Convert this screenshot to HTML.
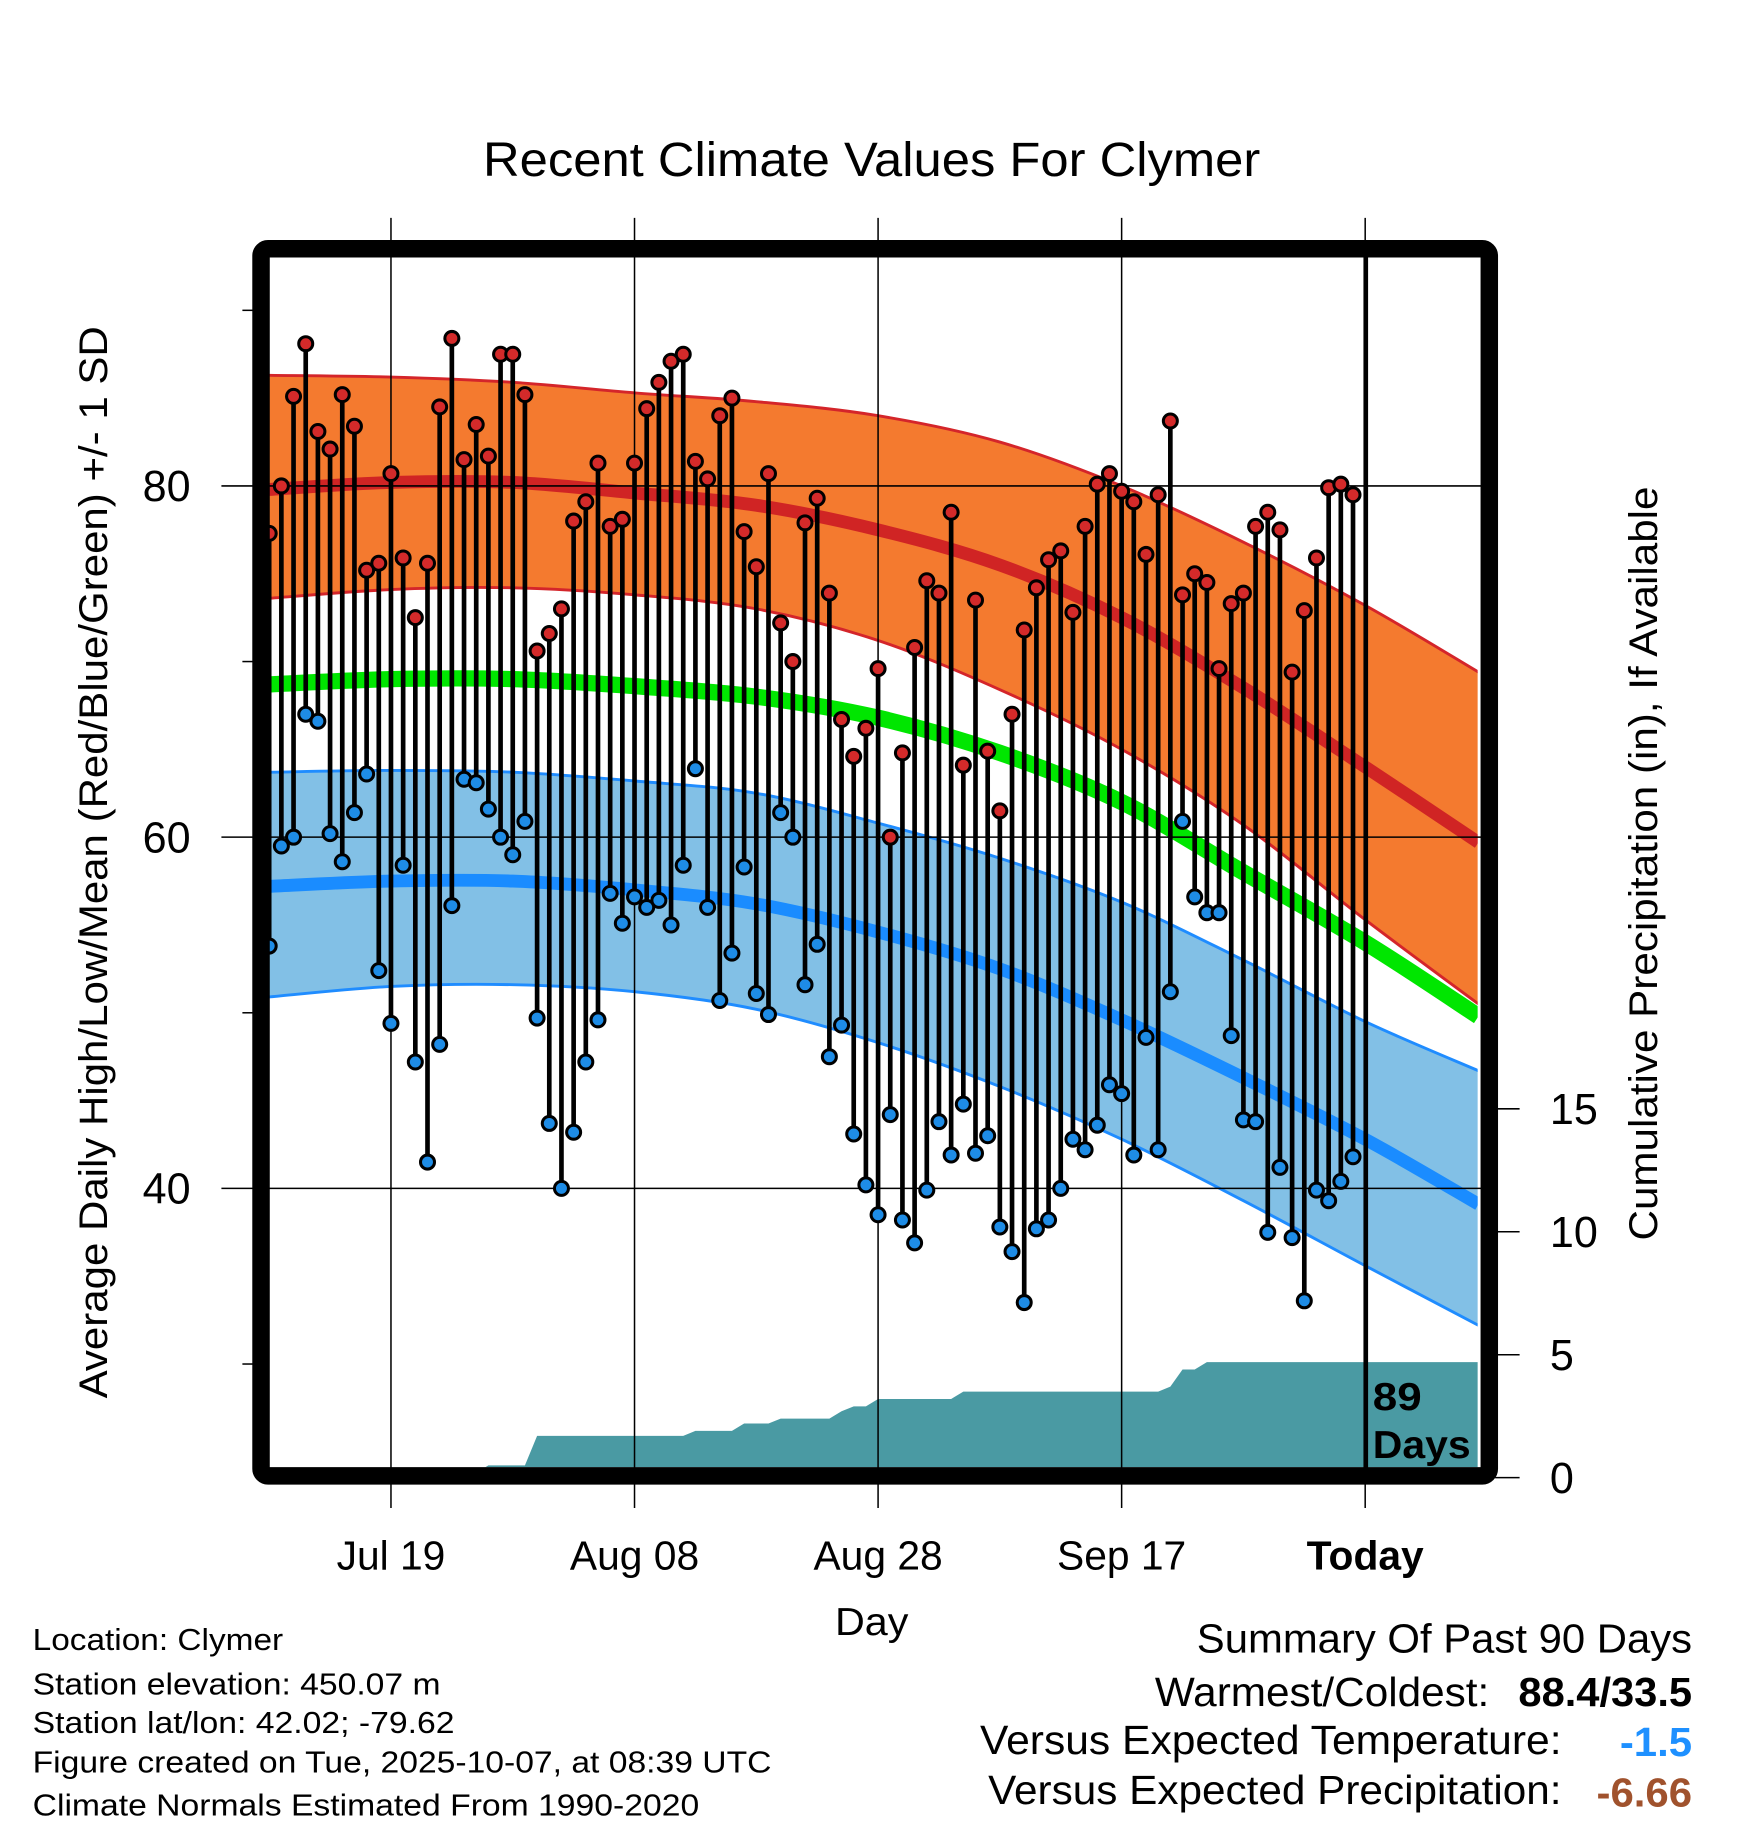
<!DOCTYPE html>
<html><head><meta charset="utf-8"><style>
html,body{margin:0;padding:0;background:#fff}
svg{display:block}
text{font-family:"Liberation Sans",sans-serif}
</style></head><body>
<svg id="chart" width="1748" height="1828" viewBox="0 0 1500 1568.65" preserveAspectRatio="none" xmlns="http://www.w3.org/2000/svg">
<defs><clipPath id="plotclip"><rect x="231" y="221" width="1037" height="1038"/></clipPath></defs>
<g id="bands" clip-path="url(#plotclip)"></g>
<g id="precip" clip-path="url(#plotclip)"></g>
<g id="grid"></g>
<g id="marks"></g>
<line x1="1172" y1="221" x2="1172" y2="1262" stroke="#000" stroke-width="4"/>
<text x="1178" y="1210" font-size="33" font-weight="bold" textLength="42" lengthAdjust="spacingAndGlyphs">89</text>
<text x="1178" y="1251" font-size="33" font-weight="bold" textLength="84" lengthAdjust="spacingAndGlyphs">Days</text>
<rect x="224" y="213.5" width="1054" height="1053" rx="6" fill="none" stroke="#000" stroke-width="15"/>
<g id="axes"></g>
<text x="748" y="151" font-size="41" text-anchor="middle" textLength="667" lengthAdjust="spacingAndGlyphs">Recent Climate Values For Clymer</text>
<text x="748" y="1403" font-size="33" text-anchor="middle" textLength="63" lengthAdjust="spacingAndGlyphs">Day</text>
<text transform="translate(92,740) rotate(-90)" font-size="34" text-anchor="middle" textLength="920" lengthAdjust="spacingAndGlyphs">Average Daily High/Low/Mean (Red/Blue/Green) +/- 1 SD</text>
<text transform="translate(1422,741) rotate(-90)" font-size="34" text-anchor="middle" textLength="647" lengthAdjust="spacingAndGlyphs">Cumulative Precipitation (in), If Available</text>
<g font-size="26">
<text x="28" y="1416" textLength="215" lengthAdjust="spacingAndGlyphs">Location: Clymer</text>
<text x="28" y="1454" textLength="350" lengthAdjust="spacingAndGlyphs">Station elevation: 450.07 m</text>
<text x="28" y="1487" textLength="362" lengthAdjust="spacingAndGlyphs">Station lat/lon: 42.02; -79.62</text>
<text x="28" y="1521" textLength="634" lengthAdjust="spacingAndGlyphs">Figure created on Tue, 2025-10-07, at 08:39 UTC</text>
<text x="28" y="1558" textLength="572" lengthAdjust="spacingAndGlyphs">Climate Normals Estimated From 1990-2020</text>
</g>
<g font-size="35">
<text x="1027" y="1418" textLength="425" lengthAdjust="spacingAndGlyphs">Summary Of Past 90 Days</text>
<text x="991" y="1464" textLength="287" lengthAdjust="spacingAndGlyphs">Warmest/Coldest:</text>
<text x="1303" y="1464" font-weight="bold" textLength="149" lengthAdjust="spacingAndGlyphs">88.4/33.5</text>
<text x="841" y="1505" textLength="499" lengthAdjust="spacingAndGlyphs">Versus Expected Temperature:</text>
<text x="1390" y="1507" font-weight="bold" fill="#1e90ff" textLength="62" lengthAdjust="spacingAndGlyphs">-1.5</text>
<text x="848" y="1548" textLength="492" lengthAdjust="spacingAndGlyphs">Versus Expected Precipitation:</text>
<text x="1370" y="1550" font-weight="bold" fill="#a0522d" textLength="82" lengthAdjust="spacingAndGlyphs">-6.66</text>
</g>
</svg>
<script>
const highs=[77.3,80,85.1,88.1,83.1,82.1,85.2,83.4,75.2,75.6,80.7,75.9,72.5,75.6,84.5,88.4,81.5,83.5,81.7,87.5,87.5,85.2,70.6,71.6,73,78,79.1,81.3,77.7,78.1,81.3,84.4,85.9,87.1,87.5,81.4,80.4,84,85,77.4,75.4,80.7,72.2,70,77.9,79.3,73.9,66.7,64.6,66.2,69.6,60,64.8,70.8,74.6,73.9,78.5,64.1,73.5,64.9,61.5,67,71.8,74.2,75.8,76.3,72.8,77.7,80.1,80.7,79.7,79.1,76.1,79.5,83.7,73.8,75,74.5,69.6,73.3,73.9,77.7,78.5,77.5,69.4,72.9,75.9,79.9,80.1,79.5];
const lows=[53.8,59.5,60,67,66.6,60.2,58.6,61.4,63.6,52.4,49.4,58.4,47.2,41.5,48.2,56.1,63.3,63.1,61.6,60,59,60.9,49.7,43.7,40,43.2,47.2,49.6,56.8,55.1,56.6,56,56.4,55,58.4,63.9,56,50.7,53.4,58.3,51.1,49.9,61.4,60,51.6,53.9,47.5,49.3,43.1,40.2,38.5,44.2,38.2,36.9,39.9,43.8,41.9,44.8,42,43,37.8,36.4,33.5,37.7,38.2,40,42.8,42.2,43.6,45.9,45.4,41.9,48.6,42.2,51.2,60.9,56.6,55.7,55.7,48.7,43.9,43.8,37.5,41.2,37.2,33.6,39.9,39.3,40.4,41.8];
const precipDaily=[0,0,0,0,0,0,0,0.05,0,0,0,0,0,0,0.05,0,0,0.1,0.3,0,0,0,1.2,0,0,0,0,0,0,0,0,0,0,0,0,0.2,0,0,0,0.3,0,0,0.2,0,0,0,0,0.3,0.2,0,0.3,0,0,0,0,0,0,0.3,0,0,0,0,0,0,0,0,0,0,0,0,0,0,0,0,0.2,0.7,0,0.3,0,0,0,0,0,0,0,0,0,0,0,0];
const normDays=[0,10,20,30,40,50,60,70,80,90,99.3];
const highUpper=[86.3,86.2,85.9,85.3,84.8,84.0,82.5,80.0,76.8,73.2,69.4];
const highMean=[79.8,80.2,80.2,79.6,78.9,77.5,75.5,72.5,68.5,64.0,59.7];
const highLower=[73.6,74.1,74.2,73.8,73.0,71.2,68.4,65.0,60.7,55.3,50.5];
const meanNorm=[68.7,69.0,69.0,68.6,68.0,66.8,64.8,62.0,58.0,54.0,49.8];
const lowUpper=[63.7,63.8,63.7,63.2,62.5,60.8,58.8,56.3,53.0,49.5,46.7];
const lowMean=[57.2,57.5,57.5,57.0,56.2,54.6,52.5,49.6,46.3,42.8,39.1];
const lowLower=[50.9,51.5,51.6,51.2,50.2,48.3,45.8,42.8,39.3,35.6,32.2];
const xTickDays=[10,30,50,70,90];
const xTickLabels=["Jul 19","Aug 08","Aug 28","Sep 17","Today"];
const yMajor=[80,60,40];
const yMinor=[90,70,50,30];
const pTicks=[0,5,10,15];

const NS="http://www.w3.org/2000/svg";
const xDay=d=>231+d*10.45;
const yT=t=>417+(80-t)*15.07;
const yP=p=>1268-p*21.1;
function mk(tag,attrs,parent){const e=document.createElementNS(NS,tag);for(const k in attrs)e.setAttribute(k,attrs[k]);parent.appendChild(e);return e;}
function smooth(pts){let d="";for(let i=0;i<pts.length-1;i++){const p0=pts[Math.max(0,i-1)],p1=pts[i],p2=pts[i+1],p3=pts[Math.min(pts.length-1,i+2)];
const c1=[p1[0]+(p2[0]-p0[0])/6,p1[1]+(p2[1]-p0[1])/6],c2=[p2[0]-(p3[0]-p1[0])/6,p2[1]-(p3[1]-p1[1])/6];
if(i===0)d+="M"+p1[0]+","+p1[1];d+=" C"+c1+" "+c2+" "+p2;}return d;}
const pts=arr=>arr.map((v,i)=>[xDay(normDays[i]),yT(v)]);
function band(up,lo,fill,edge,name){const g=document.getElementById('bands');
const lp=pts(lo).reverse();let d=smooth(pts(up))+" L"+lp[0]+smooth(lp).replace(/^M[^ ]*/,"")+" Z";
const e=mk('path',{d:d,fill:fill},g);


[up,lo].forEach(a=>{const l=mk('path',{d:smooth(pts(a)),fill:'none',stroke:edge,'stroke-width':2.5},g);

});}
function line(arr,color,w,name){const l=mk('path',{d:smooth(pts(arr)),fill:'none',stroke:color,'stroke-width':w},document.getElementById('bands'));

}
band(highUpper,highLower,'#f47a2f','#d4252a','high-sd-band');
band(lowUpper,lowLower,'#82c0e6','#1f8cff','low-sd-band');
line(highMean,'#d02424',11,'normal-high-line');
line(lowMean,'#1a8cff',11,'normal-low-line');
line(meanNorm,'#00e600',14,'normal-mean-line');

let cum=0;const pp=[];precipDaily.forEach((v,i)=>{cum+=v;pp.push([xDay(i),yP(cum)]);});
pp.push([1272,yP(cum)]);
let pd="M231,1262 "+pp.map(p=>"L"+p[0]+","+p[1]).join(" ")+" L1272,1262 Z";
const pa=mk('path',{d:pd,fill:'#4a9aa3'},document.getElementById('precip'));



const grid=document.getElementById('grid');
yMajor.forEach(t=>{const l=mk('line',{x1:190,x2:1282,y1:yT(t),y2:yT(t),stroke:'#000','stroke-width':1.3},grid);

});
xTickDays.forEach((d,i)=>{const l=mk('line',{x1:xDay(d),x2:xDay(d),y1:187,y2:1294,stroke:'#000','stroke-width':1.3},grid);

});

const marks=document.getElementById('marks');
highs.forEach((h,i)=>{const x=xDay(i);
const s=mk('line',{x1:x,x2:x,y1:yT(lows[i]),y2:yT(h),stroke:'#000','stroke-width':4},marks);

});
highs.forEach((h,i)=>{const x=xDay(i);
const a=mk('circle',{cx:x,cy:yT(h),r:6,fill:'#d42a2a',stroke:'#000','stroke-width':2.6},marks);


const b=mk('circle',{cx:x,cy:yT(lows[i]),r:6,fill:'#1e8ce6',stroke:'#000','stroke-width':2.6},marks);

});

const ax=document.getElementById('axes');
yMajor.forEach(t=>{const e=mk('text',{x:143,y:yT(t)+13,'font-size':37,'text-anchor':'middle'},ax);e.textContent=t;

});
yMinor.forEach(t=>{const l=mk('line',{x1:208,x2:217,y1:yT(t),y2:yT(t),stroke:'#000','stroke-width':1.3},ax);

});
pTicks.forEach(p=>{const l=mk('line',{x1:1283,x2:1304,y1:yP(p),y2:yP(p),stroke:'#000','stroke-width':1.3},ax);


const e=mk('text',{x:1330,y:yP(p)+13,'font-size':37},ax);e.textContent=p;

});
xTickDays.forEach((d,i)=>{const e=mk('text',{x:xDay(d),y:1347,'font-size':35,'text-anchor':'middle'},ax);e.textContent=xTickLabels[i];
if(xTickLabels[i]==='Today')e.setAttribute('font-weight','bold');

});
</script>
</body></html>
